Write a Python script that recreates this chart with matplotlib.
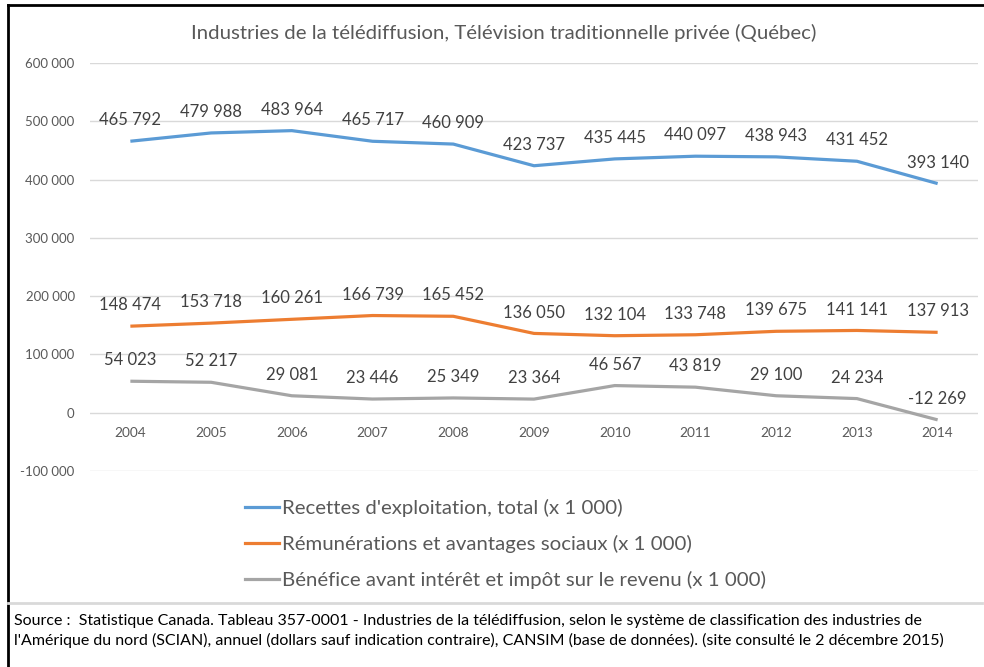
import matplotlib
matplotlib.use("Agg")
import matplotlib.pyplot as plt
from matplotlib.lines import Line2D
from matplotlib.ticker import FuncFormatter

years = ["2004", "2005", "2006", "2007", "2008", "2009", "2010", "2011", "2012", "2013", "2014"]
recettes = [465792, 479988, 483964, 465717, 460909, 423737, 435445, 440097, 438943, 431452, 393140]
remun = [148474, 153718, 160261, 166739, 165452, 136050, 132104, 133748, 139675, 141141, 137913]
benef = [54023, 52217, 29081, 23446, 25349, 23364, 46567, 43819, 29100, 24234, -12269]

labels = ["Recettes d'exploitation, total (x 1 000)",
          "Rémunérations et avantages sociaux (x 1 000)",
          "Bénéfice avant intérêt et impôt sur le revenu (x 1 000)"]
colors = ["#5B9BD5", "#ED7D31", "#A5A5A5"]
title = "Industries de la télédiffusion, Télévision traditionnelle privée (Québec)"
source = ("Source :  Statistique Canada. Tableau 357-0001 - Industries de la télédiffusion, selon le système de classification des industries de\n"
          "l'Amérique du nord (SCIAN), annuel (dollars sauf indication contraire), CANSIM (base de données). (site consulté le 2 décembre 2015)")

FONT = "Lato"
TXT = "#595959"
plt.rcParams['font.family'] = [FONT, 'DejaVu Sans']

def fmt(v):
    s = f"{abs(int(v)):,}".replace(",", " ")
    return ("-" if v < 0 else "") + s

fig = plt.figure(figsize=(9.84, 6.67), dpi=100)
ax = fig.add_axes([90/984, 1-471/667, 888/984, 408/667])

x = list(range(len(years)))
for series, c in zip([recettes, remun, benef], colors):
    ax.plot(x, series, color=c, lw=2.3, solid_capstyle='butt', zorder=3)
    for xi, v in zip(x, series):
        ax.annotate(fmt(v), (xi, v), xytext=(0, 15), textcoords='offset points',
                    ha='center', va='center', fontsize=12, color="#404040", zorder=4)

ax.set_xlim(-0.5, len(years) - 0.5)
ax.set_ylim(-100000, 600000)
ax.set_yticks(range(-100000, 600001, 100000))
ax.yaxis.set_major_formatter(FuncFormatter(lambda v, p: fmt(v)))
ax.grid(axis='y', color="#D9D9D9", lw=1)
ax.set_axisbelow(True)
for s in ax.spines.values():
    s.set_visible(False)
ax.spines['bottom'].set_position(('data', 0))
ax.set_xticks(x)
ax.set_xticklabels(years)
ax.tick_params(axis='x', length=0, pad=10, labelsize=9.8, labelcolor=TXT)
ax.tick_params(axis='y', length=0, pad=11, labelsize=9.5, labelcolor=TXT)

fig.text(504/984, 1-33/667, title, ha='center', va='center', fontsize=14.7, color=TXT)

handles = [Line2D([], [], color=c, lw=2.3) for c in colors]
fig.legend(handles, labels, loc='upper left', bbox_to_anchor=(245/984, 1-499/667),
           frameon=False, fontsize=14.7, handlelength=1.65, handletextpad=0.15,
           labelspacing=0.88, labelcolor=TXT, borderaxespad=0, borderpad=0)

fig.text(14/984, 1-631/667, source, ha='left', va='center', fontsize=11.5,
         color="#000000", linespacing=1.45)

# frame lines
fig.add_artist(Line2D([8/984, 1], [1-5/667, 1-5/667], color='black', lw=2, transform=fig.transFigure))
fig.add_artist(Line2D([8/984, 8/984], [0, 1-5/667], color='black', lw=2, transform=fig.transFigure))
fig.add_artist(Line2D([8/984, 982/984], [1-603/667, 1-603/667], color='#D9D9D9', lw=2, transform=fig.transFigure))

fig.savefig("out.png", dpi=100)
